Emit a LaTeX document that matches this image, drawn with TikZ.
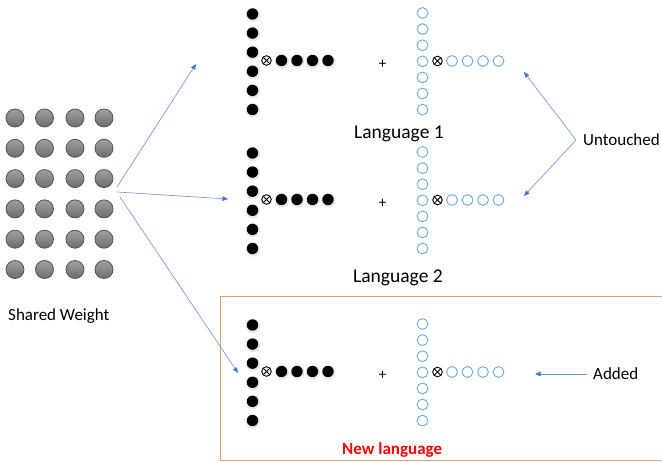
\documentclass[tikz,border=0pt]{standalone}
\usepackage{fontspec}
\setmainfont{Carlito}
\usetikzlibrary{shadows,arrows.meta}
\definecolor{linkblue}{RGB}{110,145,215}
\definecolor{tipblue}{RGB}{68,114,196}
\definecolor{ringblue}{RGB}{108,168,225}
\definecolor{boxorange}{RGB}{240,160,110}
\definecolor{grayfill}{RGB}{128,128,128}
\definecolor{grayedge}{RGB}{85,85,85}
\tikzset{
  weight/.style={circle, inner sep=0pt, minimum size=18pt, draw=grayedge, line width=0.8pt,
    top color=grayfill!75!white, bottom color=grayfill!85!black},
  blackdot/.style={circle, inner sep=0pt, minimum size=11.4pt, fill=black,
    drop shadow={opacity=0.18, shadow xshift=0.4pt, shadow yshift=-0.8pt, shadow scale=1.25}},
  ringdot/.style={circle, inner sep=0pt, minimum size=10.8pt, draw=ringblue, line width=0.9pt},
  prodsym/.style={circle, inner sep=0pt, minimum size=9.6pt, draw=black, line width=0.9pt,
    path picture={\draw[line width=0.8pt] (path picture bounding box.south west) -- (path picture bounding box.north east)
      (path picture bounding box.north west) -- (path picture bounding box.south east);}},
  label/.style={inner sep=0pt, anchor=base west, font=\fontsize{17}{20}\selectfont},
  langlabel/.style={inner sep=0pt, anchor=base west, font=\fontsize{19.5}{22}\selectfont},
  plus/.style={inner sep=0pt, font=\fontsize{15}{18}\selectfont},
  conn/.style={draw=linkblue, line width=0.6pt, -{Triangle[length=5.5pt,width=4.5pt,fill=tipblue,color=tipblue]}},
}
\begin{document}
\begin{tikzpicture}[x=1pt,y=-1pt]
  \useasboundingbox (0,0) rectangle (662,462);

  % shared weight matrix
  \foreach \r in {0,...,5} {
    \foreach \c/\cx in {0/15,1/44.5,2/75,3/104} {
      \node[weight] (w-\r-\c) at (\cx, 118+30.3*\r) {};
    }
  }
  \node[label] (shared) at (8,321) {Shared Weight};

  % one block per language: column vector, product sign, row vector, plus the new part
  \foreach \b/\yo in {1/0, 2/139, 3/311} {
    \foreach \k in {0,...,5} {
      \node[blackdot] (b\b-v\k) at (252.5, \yo+14+19.1*\k) {};
    }
    \node[prodsym] (b\b-x) at (266.5, \yo+60.5) {};
    \foreach \k/\hx in {0/281.5,1/297,2/312.5,3/328} {
      \node[blackdot] (b\b-h\k) at (\hx, \yo+60.5) {};
    }
    \node[plus] (b\b-plus) at (382.5, \yo+64) {+};
    \foreach \k in {0,...,6} {
      \node[ringdot] (n\b-v\k) at (422.5, \yo+13+16.1*\k) {};
    }
    \node[prodsym] (n\b-x) at (437.5, \yo+61) {};
    \foreach \k/\hx in {0/452,1/467.5,2/483,3/498.5} {
      \node[ringdot] (n\b-h\k) at (\hx, \yo+61) {};
    }
  }

  \node[langlabel] (lang1) at (354,139) {Language 1};
  \node[langlabel] (lang2) at (353,283) {Language 2};

  % frame around the newly added language
  \draw[boxorange, line width=1pt] (664,297) -- (220.5,297) -- (220.5,460.5) -- (664,460.5);
  \node[label, text=red, font=\fontsize{17}{20}\selectfont\bfseries] (newlang) at (342,455) {New language};

  % fan-out of the shared weight
  \coordinate (s1) at (117,187);
  \coordinate (s2) at (117,192);
  \coordinate (s3) at (120,197);
  \coordinate (t1) at (196,64);
  \coordinate (t2) at (228,199);
  \coordinate (t3) at (238,373);
  \draw[conn] (s1) -- (t1);
  \draw[conn] (s2) -- (t2);
  \draw[conn] (s3) -- (t3);

  % untouched parts
  \node[label] (untouched) at (583,146) {Untouched};
  \coordinate (u0) at (576,140);
  \coordinate (u1) at (524,72);
  \coordinate (u2) at (524,196);
  \draw[conn] (u0) -- (u1);
  \draw[conn] (u0) -- (u2);

  % added part
  \node[label] (added) at (593,380) {Added};
  \coordinate (a0) at (587,374);
  \coordinate (a1) at (535,374);
  \draw[conn] (a0) -- (a1);
\end{tikzpicture}
\end{document}
